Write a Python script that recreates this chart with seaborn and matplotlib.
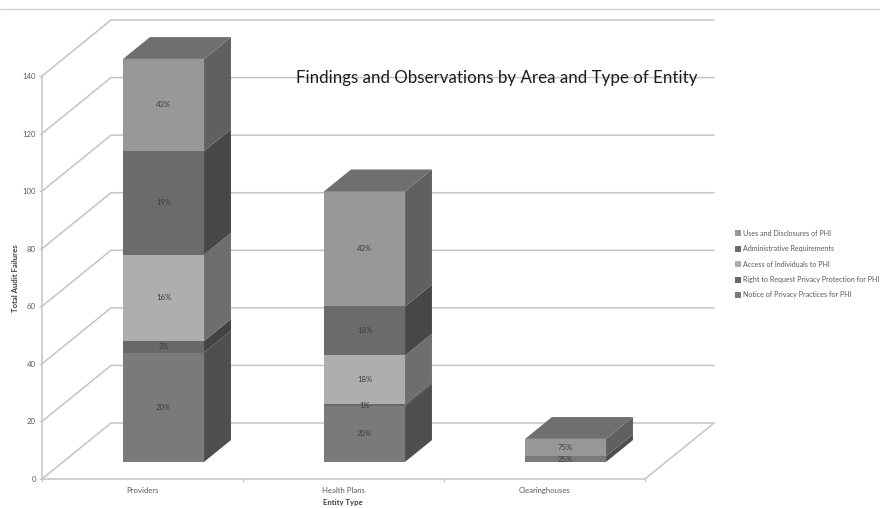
import matplotlib
matplotlib.use("Agg")
import matplotlib.pyplot as plt
import seaborn as sns
from matplotlib.lines import Line2D
from matplotlib.patches import Polygon

entities = ["Providers", "Health Plans", "Clearinghouses"]

notice = [38, 19.5, 2]
right_to_request = [4, 0.5, 0]
access = [30, 17, 0]
administrative = [36, 17, 0]
uses = [32, 40, 6]

notice_labels = ["20%", "20%", "25%"]
right_labels = ["2%", "1%", ""]
access_labels = ["16%", "18%", ""]
administrative_labels = ["19%", "18%", ""]
uses_labels = ["43%", "43%", "75%"]

series = [
    ("Notice of Privacy Practices for PHI", notice, notice_labels, "#7a7a7a", "#4e4e4e"),
    ("Right to Request Privacy Protection for PHI", right_to_request, right_labels, "#686868", "#434343"),
    ("Access of Individuals to PHI", access, access_labels, "#aeaeae", "#6e6e6e"),
    ("Administrative Requirements", administrative, administrative_labels, "#6b6b6b", "#474747"),
    ("Uses and Disclosures of PHI", uses, uses_labels, "#989898", "#606060"),
]

y_ticks = list(range(0, 141, 20))

# Oblique projection of the depth axis, in data units
DEPTH_X = 69 / 201
DEPTH_Y = 19.45
BAR_FRONT = 0.305
BAR_BACK = 0.695
BAR_WIDTH = 0.403

GRID = "#c4c4c4"
TEXT = "#595959"
TOP_FACE = "#6f6f6f"

sns.set_theme(style="white")
plt.rcParams["font.family"] = ["Lato", "DejaVu Sans"]

W, H = 880, 508
fig = plt.figure(figsize=(W / 100, H / 100), dpi=100)
ax = fig.add_axes([42 / W, (H - 479) / H, 603 / W, 403 / H])


def project(x, y, depth):
    return x + depth * DEPTH_X, y + depth * DEPTH_Y


# Back wall and floor
x_left, x_right = -0.5, 2.5
for tick in y_ticks:
    bx, by = project(x_left, tick, 1)
    ex, _ = project(x_right, tick, 1)
    ax.plot([x_left, bx, ex], [tick, by, by], color=GRID, lw=1.1, clip_on=False, zorder=1)
fx, fy = project(x_right, 0, 1)
ax.plot([x_right, fx], [0, fy], color=GRID, lw=1.1, clip_on=False, zorder=1)

# Stacked columns: front faces from seaborn, sides and tops projected from the same values
positions = [i + BAR_FRONT * DEPTH_X for i in range(len(entities))]
lift = BAR_FRONT * DEPTH_Y
bottoms = [0.0] * len(entities)
for name, values, labels, front, side in series:
    sns.barplot(x=positions, y=values, bottom=[b + lift for b in bottoms], native_scale=True,
                width=BAR_WIDTH, color=front, saturation=1, errorbar=None, linewidth=0,
                zorder=3, clip_on=False, ax=ax)
    for i, value in enumerate(values):
        if value == 0:
            continue
        base = bottoms[i]
        right = i + BAR_WIDTH / 2
        corners = [project(right, base, BAR_FRONT), project(right, base, BAR_BACK),
                   project(right, base + value, BAR_BACK), project(right, base + value, BAR_FRONT)]
        ax.add_patch(Polygon(corners, closed=True, facecolor=side, edgecolor="none",
                             clip_on=False, zorder=3))
        if labels[i]:
            lx, ly = project(i, base + value / 2, BAR_FRONT)
            ax.text(lx, ly, labels[i], ha="center", va="center", fontsize=5.6,
                    color="#3c3c3c", zorder=5)
    bottoms = [b + v for b, v in zip(bottoms, values)]

for i, total in enumerate(bottoms):
    left, right = i - BAR_WIDTH / 2, i + BAR_WIDTH / 2
    corners = [project(left, total, BAR_FRONT), project(right, total, BAR_FRONT),
               project(right, total, BAR_BACK), project(left, total, BAR_BACK)]
    ax.add_patch(Polygon(corners, closed=True, facecolor=TOP_FACE, edgecolor="none",
                         clip_on=False, zorder=3))

# Axes
ax.set_xlim(x_left, x_right)
ax.set_ylim(0, 140)
ax.set_xticks(range(len(entities)), entities)
ax.set_xticks([-0.5, 0.5, 1.5, 2.5], minor=True)
ax.set_yticks(y_ticks)
ax.grid(False)
ax.tick_params(axis="x", which="major", length=0, pad=6, labelsize=5.6, labelcolor=TEXT)
ax.tick_params(axis="x", which="minor", length=2, width=0.8, color=GRID, bottom=True)
ax.tick_params(axis="y", length=2.5, width=0.8, color=GRID, pad=2, labelsize=5.6, labelcolor=TEXT,
               left=True)
for side_name in ("top", "right"):
    ax.spines[side_name].set_visible(False)
for side_name in ("left", "bottom"):
    ax.spines[side_name].set_color(GRID)
    ax.spines[side_name].set_linewidth(1.1)

fig.text(16 / W, 1 - 278 / H, "Total Audit Failures", rotation=90, ha="center", va="center",
         fontsize=5.6, fontweight="bold", color="#404040")
fig.text(343 / W, 1 - 503 / H, "Entity Type", ha="center", va="center",
         fontsize=5.6, fontweight="bold", color="#404040")
fig.text(496.5 / W, 1 - 78 / H, "Findings and Observations by Area and Type of Entity",
         ha="center", va="center", fontsize=12.2, color="#1c1c1c", zorder=10)

# Rule across the top of the figure
fig.add_artist(Line2D([0, 1], [1 - 8.5 / H] * 2, color="#d4d4d4", lw=1))

handles = [Line2D([], [], marker="s", ls="none", ms=3.8, color=s[3], mew=0) for s in reversed(series)]
fig.legend(handles, [s[0] for s in reversed(series)], loc="upper left",
           bbox_to_anchor=(734.5 / W, 1 - 230 / H), bbox_transform=fig.transFigure, frameon=False,
           fontsize=5.15, labelcolor=TEXT, handlelength=1.0, handletextpad=0.25, labelspacing=1.17,
           borderpad=0, borderaxespad=0)

fig.savefig("out.png", dpi=100, facecolor="white")
